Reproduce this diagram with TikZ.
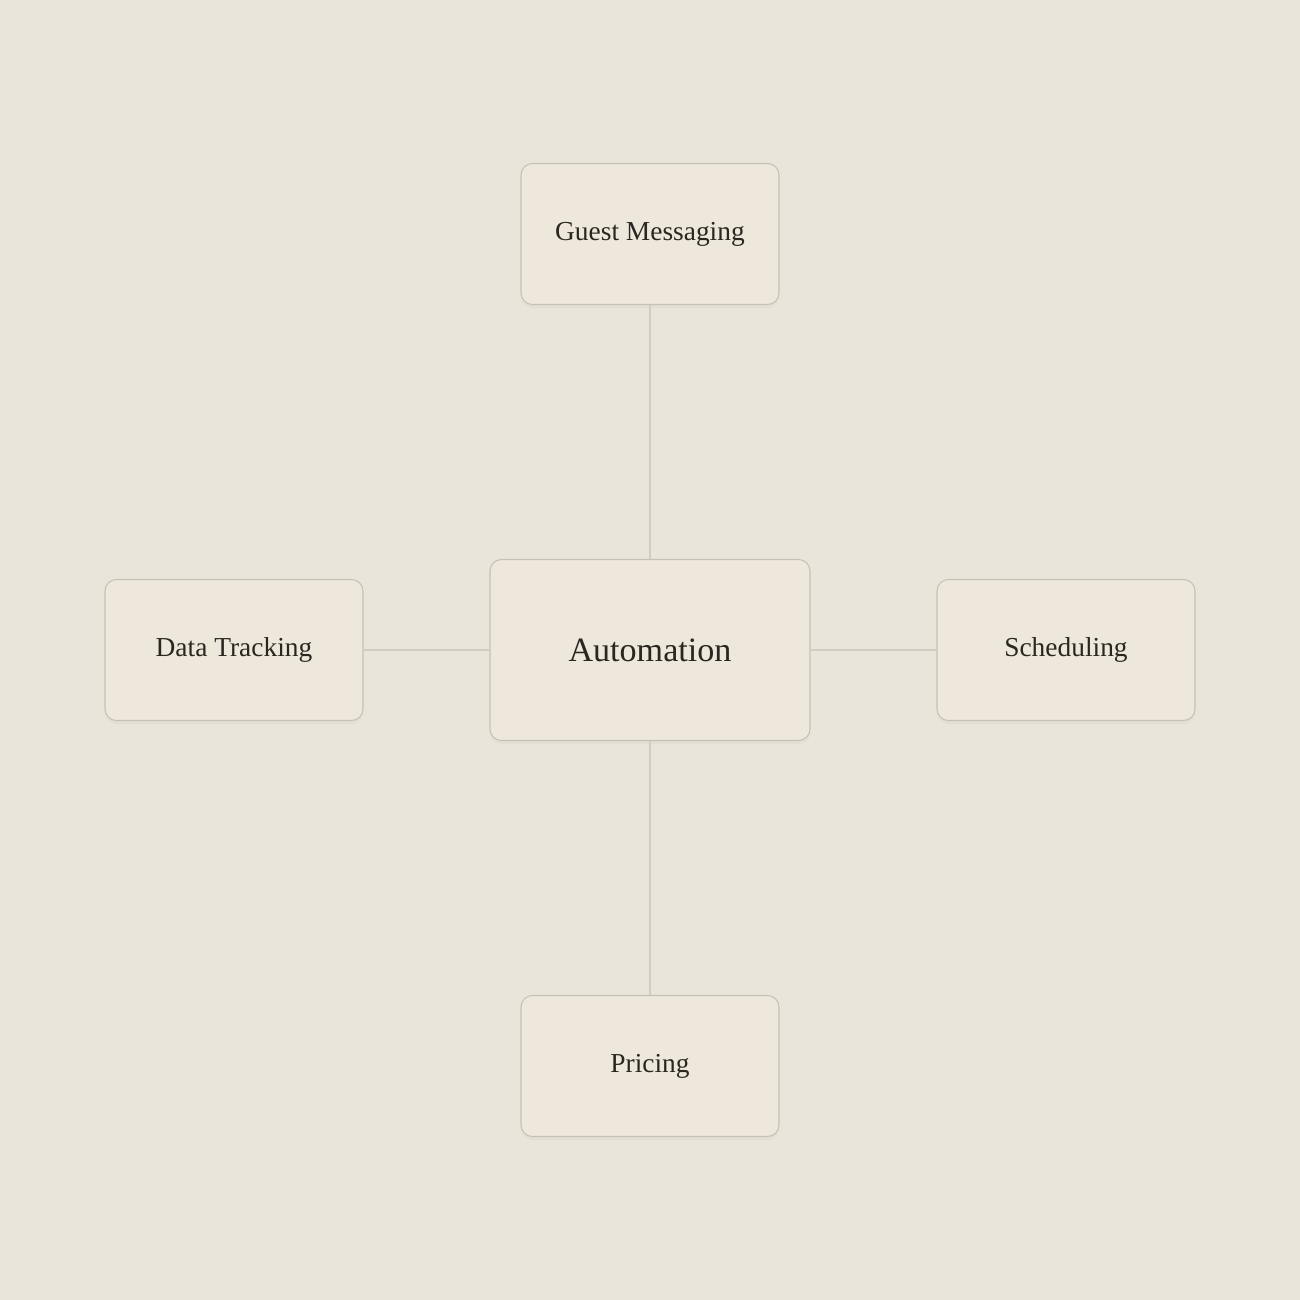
\documentclass[tikz,border=0pt]{standalone}
\usepackage{fontspec}
\setmainfont{Liberation Serif}
\usetikzlibrary{positioning,shadows}
\definecolor{paper}{HTML}{EAE5DA}
\definecolor{boxfill}{HTML}{EDE7DC}
\definecolor{boxline}{HTML}{C6C0B6}
\definecolor{wire}{HTML}{D2CCC2}
\definecolor{ink}{HTML}{2B2720}
\begin{document}
\begin{tikzpicture}[node distance=8.32cm,on grid,
  topic/.style={draw=boxline,line width=0.6pt,fill=boxfill,rounded corners=6.5pt,
    minimum width=5.16cm,minimum height=2.82cm,text=ink,font=\fontsize{15.6}{18}\selectfont,
    drop shadow={opacity=0.06,shadow xshift=0pt,shadow yshift=-2pt}},
  hub/.style={topic,minimum width=6.4cm,minimum height=3.62cm,font=\fontsize{19.4}{22}\selectfont},
  link/.style={draw=wire,line width=0.8pt}]
 \fill[paper] (-13,-13) rectangle (13,13);
 \useasboundingbox (-13,-13) rectangle (13,13);
 \node[hub] (auto) at (0,0) {Automation};
 \node[topic] (guest)[above=of auto] {Guest Messaging};
 \node[topic] (track)[left=of auto] {Data Tracking};
 \node[topic] (sched)[right=of auto] {Scheduling};
 \node[topic] (price)[below=of auto] {Pricing};
 \path[link]
 (auto) -- (guest)
 (auto) -- (track)
 (auto) -- (sched)
 (auto) -- (price);
\end{tikzpicture}
\end{document}
